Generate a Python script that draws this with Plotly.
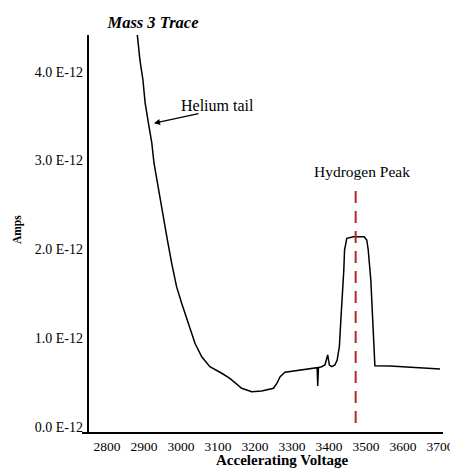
import plotly.graph_objects as go

# Mass 3 trace: accelerating voltage (V) vs. ion current (units of 1E-12 A)
voltage = [2881, 2889, 2897, 2903, 2912, 2921, 2927, 2939, 2952, 2963, 2975,
           2988, 3002, 3020, 3038, 3056, 3078, 3110, 3132, 3164, 3191, 3218,
           3250, 3259, 3268, 3281, 3308, 3340, 3368, 3369.5, 3371.5, 3380,
           3389, 3396.5, 3401, 3407, 3416, 3422, 3428, 3432, 3436, 3440,
           3442, 3448, 3466, 3495, 3502, 3506, 3513, 3518, 3522, 3524, 3565,
           3700]
amps_e12 = [4.45, 4.13, 3.91, 3.65, 3.42, 3.20, 2.97, 2.67, 2.37, 2.11, 1.84,
            1.58, 1.39, 1.17, 0.94, 0.79, 0.68, 0.605, 0.548, 0.436, 0.398, 0.405,
            0.436, 0.492, 0.566, 0.616, 0.631, 0.653, 0.668, 0.462, 0.670, 0.679,
            0.698, 0.811, 0.698, 0.679, 0.698, 0.755, 0.904, 1.205, 1.467, 1.768,
            1.993, 2.125, 2.143, 2.143, 2.106, 1.993, 1.655, 1.205, 0.830, 0.690, 0.687,
            0.653]

# Hydrogen peak marker
h_peak_voltage = 3472
h_marker_span = [0.045, 2.69]

x_ticks = [2800, 2900, 3000, 3100, 3200, 3300, 3400, 3500, 3600, 3700]
y_ticks = [0, 1, 2, 3, 4]
y_tick_text = ["0.0 E-12", "1.0 E-12", "2.0 E-12", "3.0 E-12", "4.0 E-12"]

x_range = [2748.6, 3708.1]
y_range = [-0.0676, 4.414]

serif = "Liberation Serif, Times New Roman, serif"

fig = go.Figure()
fig.add_trace(go.Scatter(
    x=voltage, y=amps_e12, mode="lines",
    line=dict(color="black", width=1.5), hoverinfo="skip", showlegend=False,
))
fig.add_trace(go.Scatter(
    x=[h_peak_voltage, h_peak_voltage], y=h_marker_span, mode="lines",
    line=dict(color="#b5272b", width=2, dash="12px,8px"),
    hoverinfo="skip", showlegend=False,
))

# axis lines: y axis at the plot edge, x axis extending slightly left of it
fig.add_shape(type="line", xref="paper", yref="paper", x0=0, x1=0, y0=0, y1=1,
              line=dict(color="black", width=2))
fig.add_shape(type="line", xref="paper", yref="paper", x0=-0.017, x1=1, y0=0, y1=0,
              line=dict(color="black", width=2))

fig.add_annotation(x=3098, y=3.62, text="Helium tail", showarrow=False,
                   xanchor="center", yanchor="middle",
                   font=dict(family=serif, size=16, color="black"))
fig.add_annotation(x=2927, y=3.42, ax=46, ay=-10, text="", showarrow=True,
                   arrowhead=2, arrowsize=1, arrowwidth=1.2, arrowcolor="black",
                   standoff=0)
fig.add_annotation(x=3488, y=2.872, text="Hydrogen Peak", showarrow=False,
                   xanchor="center", yanchor="middle",
                   font=dict(family=serif, size=15.5, color="black"))
fig.add_annotation(xref="paper", yref="paper", x=0.546, y=-0.068,
                   xanchor="center", yanchor="middle",
                   text="<b>Accelerating Voltage</b>", showarrow=False,
                   font=dict(family=serif, size=15, color="black"))
fig.add_annotation(xref="paper", yref="paper", x=-0.2, y=0.51,
                   xanchor="center", yanchor="middle",
                   text="<b>Amps</b>", showarrow=False, textangle=-90,
                   font=dict(family=serif, size=11.5, color="black"))

fig.update_layout(
    width=450, height=468,
    margin=dict(l=88, r=7, t=35, b=35),
    paper_bgcolor="white", plot_bgcolor="white",
    title=dict(text="<b><i>Mass 3 Trace</i></b>", x=0.34, xanchor="center",
               y=0.953, yanchor="middle",
               font=dict(family=serif, size=16.5, color="black")),
    xaxis=dict(range=x_range, tickvals=x_ticks, showgrid=False, zeroline=False,
               showline=False, ticks="", ticklabelstandoff=3,
               ticklabeloverflow="allow", automargin=False,
               tickfont=dict(family=serif, size=13.5, color="black")),
    yaxis=dict(range=y_range, tickvals=y_ticks, ticktext=y_tick_text,
               showgrid=False, zeroline=False, showline=False, ticks="",
               ticklabelstandoff=4, automargin=False,
               tickfont=dict(family=serif, size=14, color="black")),
)

fig.write_html("out.html")
